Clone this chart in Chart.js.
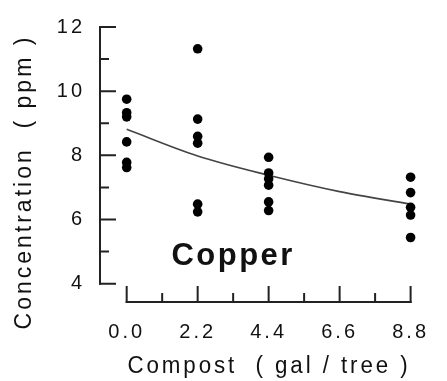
<!DOCTYPE html>
<html>
<head>
<meta charset="utf-8">
<script src="https://cdn.jsdelivr.net/npm/chart.js@4/dist/chart.umd.min.js"></script>
<style>
html,body{margin:0;padding:0;background:#fff;}
canvas{display:block;}
</style>
</head>
<body>
<canvas id="c" width="447" height="381"></canvas>
<script>
// ---- data ----
const xCategories = [0.0, 2.2, 4.4, 6.6, 8.8];
const xMinorTicks = [1.1, 3.3, 5.5, 7.7];
const yTicks = [4, 6, 8, 10, 12];
const yMinorTicks = [5, 7, 9, 11];
const copperAt0 = [9.75, 9.33, 9.2, 8.42, 7.78, 7.62];
const copperAt22 = [11.32, 9.13, 8.59, 8.38, 6.48, 6.24];
const copperAt44 = [7.94, 7.45, 7.27, 7.07, 6.55, 6.28];
const copperAt88 = [7.32, 6.84, 6.38, 6.14, 5.44];
const fitCurve = [8.81, 7.98, 7.38, 6.87, 6.48];
const annotationText = 'Copper';
const annotationAt = [3.3, 4.84];
const xTitle = '   Compost  ( gal / tree )';
const yTitle = '    Concentration  ( ppm )';

// ---- build datasets ----
const groups = [[0.0, copperAt0], [2.2, copperAt22], [4.4, copperAt44], [8.8, copperAt88]];
const scatterPoints = [];
groups.forEach(([x, vals]) => vals.forEach(v => scatterPoints.push({x: x, y: v})));
const curvePoints = xCategories.map((x, i) => ({x: x, y: fitCurve[i]}));

Chart.defaults.font.family = "'Liberation Sans', Arial, sans-serif";
Chart.defaults.color = '#111';

const spacingPlugin = {
  id: 'spacing',
  beforeLayout(chart) { chart.ctx.letterSpacing = '3px'; },
  beforeDraw(chart) { chart.ctx.letterSpacing = '3px'; }
};

const axesPlugin = {
  id: 'axesLines',
  beforeDatasetsDraw(chart) {
    const {ctx, scales: {x, y}, chartArea} = chart;
    ctx.save();
    ctx.strokeStyle = '#222';
    ctx.lineWidth = 2;
    ctx.lineCap = 'square';
    const yx = chartArea.left;
    ctx.beginPath();
    ctx.moveTo(yx, y.getPixelForValue(yTicks[yTicks.length - 1]));
    ctx.lineTo(yx, y.getPixelForValue(yTicks[0]));
    ctx.stroke();
    ctx.beginPath();
    yTicks.forEach(v => { const p = y.getPixelForValue(v); ctx.moveTo(yx, p); ctx.lineTo(yx + 15, p); });
    yMinorTicks.forEach(v => { const p = y.getPixelForValue(v); ctx.moveTo(yx, p); ctx.lineTo(yx + 8, p); });
    ctx.stroke();
    const xy = chartArea.bottom;
    ctx.beginPath();
    ctx.moveTo(x.getPixelForValue(xCategories[0]), xy);
    ctx.lineTo(x.getPixelForValue(xCategories[xCategories.length - 1]), xy);
    ctx.stroke();
    ctx.beginPath();
    xCategories.forEach(v => { const p = x.getPixelForValue(v); ctx.moveTo(p, xy); ctx.lineTo(p, xy - 15); });
    xMinorTicks.forEach(v => { const p = x.getPixelForValue(v); ctx.moveTo(p, xy); ctx.lineTo(p, xy - 8); });
    ctx.stroke();
    ctx.restore();
  }
};

const labelPlugin = {
  id: 'copperLabel',
  afterDatasetsDraw(chart) {
    const {ctx, scales: {x, y}} = chart;
    ctx.save();
    ctx.font = "bold 31px 'Liberation Sans', Arial, sans-serif";
    ctx.letterSpacing = '2.5px';
    ctx.fillStyle = '#111';
    ctx.textAlign = 'center';
    ctx.textBaseline = 'middle';
    ctx.fillText(annotationText, x.getPixelForValue(annotationAt[0]), y.getPixelForValue(annotationAt[1]));
    ctx.restore();
  }
};

new Chart(document.getElementById('c'), {
  type: 'scatter',
  data: {
    datasets: [
      {
        type: 'line',
        data: curvePoints,
        borderColor: '#444',
        borderWidth: 1.6,
        pointRadius: 0,
        cubicInterpolationMode: 'monotone',
        fill: false,
        clip: false,
        order: 2
      },
      {
        data: scatterPoints,
        backgroundColor: '#000',
        borderColor: '#000',
        borderWidth: 0,
        pointRadius: 4.8,
        clip: false,
        order: 1
      }
    ]
  },
  options: {
    responsive: false,
    devicePixelRatio: 1,
    animation: false,
    layout: { padding: { top: 20.7, right: 21, bottom: 0, left: 0 } },
    plugins: {
      legend: { display: false },
      tooltip: { enabled: false },
      title: {
        display: true,
        position: 'left',
        text: yTitle,
        color: '#111',
        font: { size: 23, weight: 'normal' },
        padding: { top: 11, bottom: 2 }
      }
    },
    scales: {
      x: {
        type: 'linear',
        min: -0.827,
        max: 8.8,
        grid: { display: false, drawTicks: false },
        border: { display: false },
        afterBuildTicks: s => { s.ticks = xCategories.map(v => ({value: v})); },
        afterFit: s => { s.height = 79; },
        ticks: {
          autoSkip: false,
          maxRotation: 0,
          padding: 18,
          color: '#111',
          font: { size: 20 },
          callback: v => Number(v).toFixed(1)
        },
        title: {
          display: true,
          text: xTitle,
          color: '#111',
          font: { size: 23 },
          padding: { top: 0, bottom: 1 }
        }
      },
      y: {
        type: 'linear',
        min: 3.43,
        max: 12,
        grid: { display: false, drawTicks: false },
        border: { display: false },
        afterBuildTicks: s => { s.ticks = yTicks.map(v => ({value: v})); },
        afterFit: s => { s.width = 59.4; },
        ticks: {
          autoSkip: false,
          padding: 15,
          color: '#111',
          font: { size: 20 },
          callback: v => String(v)
        }
      }
    }
  },
  plugins: [spacingPlugin, axesPlugin, labelPlugin]
});
</script>
</body>
</html>
